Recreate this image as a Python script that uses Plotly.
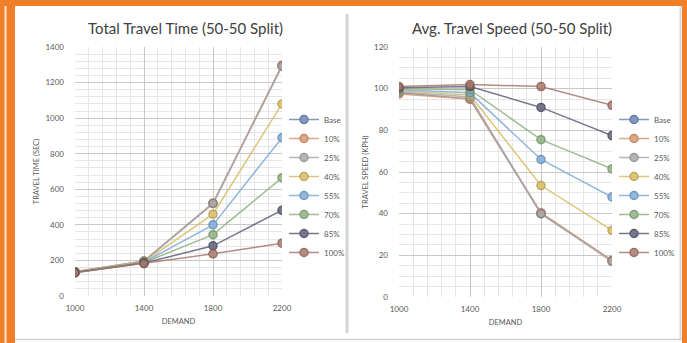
import plotly.graph_objects as go

demand = [1000, 1400, 1800, 2200]
series = ["Base", "10%", "25%", "40%", "55%", "70%", "85%", "100%"]

time_base = [135, 195, 520, 1295]
time_10 = [137, 197, 522, 1297]
time_25 = [136, 196, 521, 1292]
time_40 = [135, 192, 460, 1080]
time_55 = [134, 190, 400, 890]
time_70 = [133, 188, 345, 665]
time_85 = [132, 185, 282, 482]
time_100 = [130, 182, 237, 297]

speed_base = [98, 95, 40, 17.5]
speed_10 = [97.5, 95, 40.5, 17.5]
speed_25 = [98.5, 96, 40, 17]
speed_40 = [99, 97, 53.5, 32]
speed_55 = [99.5, 98, 66, 48]
speed_70 = [100, 99.5, 75.5, 61.5]
speed_85 = [100.5, 101, 91, 77.5]
speed_100 = [101, 102, 101, 92]

time_vals = [time_base, time_10, time_25, time_40, time_55, time_70, time_85, time_100]
speed_vals = [speed_base, speed_10, speed_25, speed_40, speed_55, speed_70, speed_85, speed_100]

line_colors = ["#6F88B8", "#D99A70", "#A9A9A9", "#D9BC64", "#7FAAD8", "#8FB183", "#5E6178", "#A9786C"]
edge_colors = ["#4C6290", "#B57650", "#888888", "#B59840", "#5B88B5", "#6E8F62", "#3F4258", "#87584C"]

W, H = 687, 343
fig = go.Figure()

for i, name in enumerate(series):
    fig.add_trace(go.Scatter(
        x=demand, y=time_vals[i], name=name, mode="lines+markers", opacity=0.85,
        line=dict(color=line_colors[i], width=1.5),
        marker=dict(size=8, color=line_colors[i], line=dict(color=edge_colors[i], width=1.5)),
        xaxis="x", yaxis="y", legend="legend"))
for i, name in enumerate(series):
    fig.add_trace(go.Scatter(
        x=demand, y=speed_vals[i], name=name, mode="lines+markers", opacity=0.85,
        line=dict(color=line_colors[i], width=1.5),
        marker=dict(size=8, color=line_colors[i], line=dict(color=edge_colors[i], width=1.5)),
        xaxis="x2", yaxis="y2", legend="legend2"))

def px(x):
    return x / W

def py(y):
    return 1 - y / H

tickfont = dict(family="Lato, Open Sans, sans-serif", size=8, color="#595959")
titlefont = dict(family="Lato, Open Sans, sans-serif", size=7.5, color="#595959")
legfont = dict(family="Lato, Open Sans, sans-serif", size=8, color="#595959")

common_x = dict(range=[1000, 2200], tickvals=demand, showgrid=True, gridcolor="#C8C8C8", gridwidth=1,
                minor=dict(dtick=80, tick0=1000, showgrid=True, gridcolor="#E6E6E6", gridwidth=1),
                zeroline=False, showline=False, tickfont=tickfont, ticks="", ticklabelstandoff=6,
                automargin=False,
                title=dict(text="DEMAND", font=titlefont, standoff=6), fixedrange=True)

fig.update_layout(
    width=W, height=H, margin=dict(l=0, r=0, t=0, b=0, autoexpand=False),
    paper_bgcolor="white", plot_bgcolor="white",
    xaxis=dict(domain=[px(75), px(282)], anchor="y", **common_x),
    xaxis2=dict(domain=[px(399), px(612)], anchor="y2", **common_x),
    yaxis=dict(domain=[py(296), py(47)], anchor="x", range=[0, 1400], dtick=200,
               showgrid=True, gridcolor="#C8C8C8",
               minor=dict(dtick=40, showgrid=True, gridcolor="#E6E6E6"),
               zeroline=False, tickfont=tickfont, ticklabelstandoff=10, automargin=False,
               title=dict(text="TRAVEL TIME (SEC)", font=titlefont, standoff=4)),
    yaxis2=dict(domain=[py(297), py(47)], anchor="x2", range=[0, 120], dtick=20,
                showgrid=True, gridcolor="#C8C8C8",
                minor=dict(dtick=5, showgrid=True, gridcolor="#E6E6E6"),
                zeroline=False, tickfont=tickfont, ticklabelstandoff=10, automargin=False,
                title=dict(text="TRAVEL SPEED (KPH)", font=titlefont, standoff=4)),
    legend=dict(x=px(284), y=py(186), xanchor="left", yanchor="middle",
                font=legfont, bgcolor="rgba(0,0,0,0)", itemwidth=30, tracegroupgap=0),
    legend2=dict(x=px(614), y=py(186), xanchor="left", yanchor="middle",
                 font=legfont, bgcolor="rgba(0,0,0,0)", itemwidth=30, tracegroupgap=0),
    showlegend=True,
    annotations=[
        dict(text="Total Travel Time (50-50 Split)", x=px(185), y=py(28), xref="paper", yref="paper",
             xanchor="center", yanchor="middle", showarrow=False,
             font=dict(family="Lato, Open Sans, sans-serif", size=15, color="#404040")),
        dict(text="Avg. Travel Speed (50-50 Split)", x=px(512), y=py(28), xref="paper", yref="paper",
             xanchor="center", yanchor="middle", showarrow=False,
             font=dict(family="Lato, Open Sans, sans-serif", size=15, color="#404040")),
    ],
    shapes=[
        # orange frame
        dict(type="rect", xref="paper", yref="paper", x0=0, x1=px(15), y0=0, y1=1,
             fillcolor="#F07F2A", line_width=0, layer="below"),
        dict(type="rect", xref="paper", yref="paper", x0=px(4.5), x1=px(6.5), y0=0, y1=1,
             fillcolor="#FCE3CF", line_width=0, layer="below"),
        dict(type="rect", xref="paper", yref="paper", x0=0, x1=1, y0=py(6), y1=1,
             fillcolor="#F07F2A", line_width=0, layer="below"),
        dict(type="rect", xref="paper", yref="paper", x0=px(682), x1=1, y0=0, y1=1,
             fillcolor="#F07F2A", line_width=0, layer="below"),
        dict(type="line", xref="paper", yref="paper", x0=px(680.5), x1=px(680.5), y0=py(339), y1=py(6),
             line=dict(color="#D8D8D8", width=2), layer="below"),
        # divider between panels
        dict(type="rect", xref="paper", yref="paper", x0=px(345.5), x1=px(348.5), y0=py(333), y1=py(14),
             fillcolor="#D4D4D4", line_width=0, layer="below"),
        # bottom line
        dict(type="line", xref="paper", yref="paper", x0=px(15), x1=px(682), y0=py(339.5), y1=py(339.5),
             line=dict(color="#D0D0D0", width=1.5), layer="below"),
    ],
)

fig.write_html("out.html", config={"displayModeBar": False},
               post_script="document.body.style.margin='0';document.body.style.overflow='hidden';")
